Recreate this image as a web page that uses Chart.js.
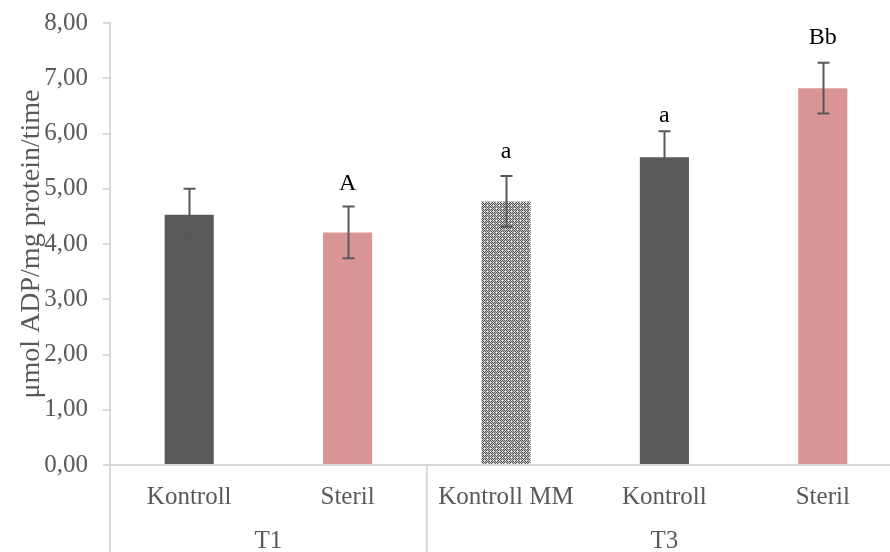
<!DOCTYPE html>
<html>
<head>
<meta charset="utf-8">
<script src="https://cdn.jsdelivr.net/npm/chart.js@4/dist/chart.umd.min.js"></script>
<style>
  html, body { margin: 0; padding: 0; background: #ffffff; overflow: hidden; }
  #wrap { position: relative; width: 902px; height: 552px; }
</style>
</head>
<body>
<div id="wrap"><canvas id="c"></canvas></div>
<script>
// ADP production per treatment group
const categories = ['Kontroll', 'Steril', 'Kontroll MM', 'Kontroll', 'Steril'];
const groupNames = ['T1', 'T3'];
const groupSizes = [2, 3];
const means  = [4.53, 4.21, 4.77, 5.57, 6.82];
const errors = [0.47, 0.47, 0.46, 0.47, 0.46];
const letters = ['', 'A', 'a', 'a', 'Bb'];
const yMin = 0, yMax = 8, yStep = 1;

const FONT = "'Liberation Serif', 'Times New Roman', serif";
const GREY_TEXT = '#595959';
const AXIS = '#d9d9d9';

const canvas = document.getElementById('c');
const ctx = canvas.getContext('2d');

// small confetti fill used for the "Kontroll MM" bar
function confettiPattern() {
  const t = document.createElement('canvas');
  t.width = 6; t.height = 6;
  const g = t.getContext('2d');
  for (let y = 0; y < 6; y++) {
    for (let x = 0; x < 6; x++) {
      g.fillStyle = ((x + y) % 2 === 0) ? '#555555' : '#c4c4c4';
      g.fillRect(x, y, 1, 1);
    }
  }
  g.fillStyle = '#ffffff';
  g.fillRect(1, 1, 1, 1);
  g.fillRect(4, 4, 1, 1);
  g.fillRect(1, 4, 1, 1);
  g.fillRect(4, 1, 1, 1);
  return ctx.createPattern(t, 'repeat');
}

const DARK = '#595959';
const PINK = '#d99594';
const barColors = [DARK, PINK, confettiPattern(), DARK, PINK];

// error bars + significance letters
const errorBarPlugin = {
  id: 'errorBars',
  afterDatasetsDraw(chart, args, opts) {
    const c = chart.ctx;
    const y = chart.scales.y;
    const meta = chart.getDatasetMeta(0);
    c.save();
    c.strokeStyle = opts.color;
    c.lineWidth = opts.lineWidth;
    meta.data.forEach((bar, i) => {
      const x = Math.round(bar.x) + 0.5;
      const yt = y.getPixelForValue(means[i] + errors[i]);
      const yb = y.getPixelForValue(means[i] - errors[i]);
      const w = opts.capWidth / 2;
      c.beginPath();
      c.moveTo(x, yt); c.lineTo(x, yb);
      c.moveTo(x - w, yt); c.lineTo(x + w, yt);
      c.moveTo(x - w, yb); c.lineTo(x + w, yb);
      c.stroke();
      if (letters[i]) {
        c.fillStyle = '#000000';
        c.font = opts.letterFont;
        c.textAlign = 'center';
        c.textBaseline = 'alphabetic';
        c.fillText(letters[i], bar.x, yt - opts.letterGap[i]);
      }
    });
    c.restore();
  }
};

// second category row (T1 / T3) with separators
const groupAxisPlugin = {
  id: 'groupAxis',
  afterDraw(chart, args, opts) {
    const c = chart.ctx;
    const area = chart.chartArea;
    const bottom = chart.height;
    const step = (area.right - area.left) / categories.length;
    c.save();
    c.strokeStyle = AXIS;
    c.lineWidth = 2;
    let start = 0;
    const edges = [0];
    groupSizes.forEach(n => { start += n; edges.push(start); });
    edges.forEach(k => {
      const x = area.left + k * step;
      c.beginPath();
      c.moveTo(x, area.bottom);
      c.lineTo(x, bottom);
      c.stroke();
    });
    c.fillStyle = GREY_TEXT;
    c.font = opts.font;
    c.textAlign = 'center';
    c.textBaseline = 'middle';
    groupNames.forEach((name, g) => {
      const x0 = area.left + edges[g] * step;
      const x1 = area.left + edges[g + 1] * step;
      c.fillText(name, (x0 + x1) / 2, opts.y);
    });
    c.restore();
  }
};

Chart.defaults.font.family = FONT;

new Chart(ctx, {
  type: 'bar',
  data: {
    labels: categories,
    datasets: [{
      data: means,
      backgroundColor: barColors,
      borderWidth: 0,
      barPercentage: 0.31,
      categoryPercentage: 1.0
    }]
  },
  options: {
    responsive: true,
    maintainAspectRatio: false,
    devicePixelRatio: 1,
    animation: false,
    layout: { padding: { top: 23, right: 0, bottom: 0, left: 0 } },
    plugins: {
      legend: { display: false },
      tooltip: { enabled: false },
      errorBars: {
        color: '#595959',
        lineWidth: 2,
        capWidth: 12,
        letterFont: "24px " + FONT,
        letterGap: [0, 16, 18, 9, 19]
      },
      groupAxis: { font: "25px " + FONT, y: 541 }
    },
    scales: {
      x: {
        type: 'category',
        grid: { display: false, drawTicks: false },
        border: { display: true, color: AXIS, width: 2 },
        ticks: {
          color: GREY_TEXT,
          font: { size: 25, family: FONT },
          padding: 17,
          maxRotation: 0,
          autoSkip: false
        },
        afterFit(scale) { scale.height = 87; }
      },
      y: {
        min: yMin,
        max: yMax,
        grid: {
          drawOnChartArea: false,
          drawTicks: true,
          tickLength: 7,
          color: AXIS,
          lineWidth: 2
        },
        border: { display: true, color: AXIS, width: 2 },
        ticks: {
          stepSize: yStep,
          color: GREY_TEXT,
          font: { size: 25, family: FONT },
          padding: 15,
          callback: v => v.toFixed(2).replace('.', ',')
        },
        title: {
          display: true,
          text: 'μmol ADP/mg protein/time',
          color: GREY_TEXT,
          font: { size: 28, family: FONT },
          padding: { top: 15, bottom: 0 }
        },
        afterFit(scale) {
          scale.width = 110;
          scale.paddingTop = 0;
          scale.paddingBottom = 0;
        }
      }
    }
  },
  plugins: [errorBarPlugin, groupAxisPlugin]
});
</script>
</body>
</html>
